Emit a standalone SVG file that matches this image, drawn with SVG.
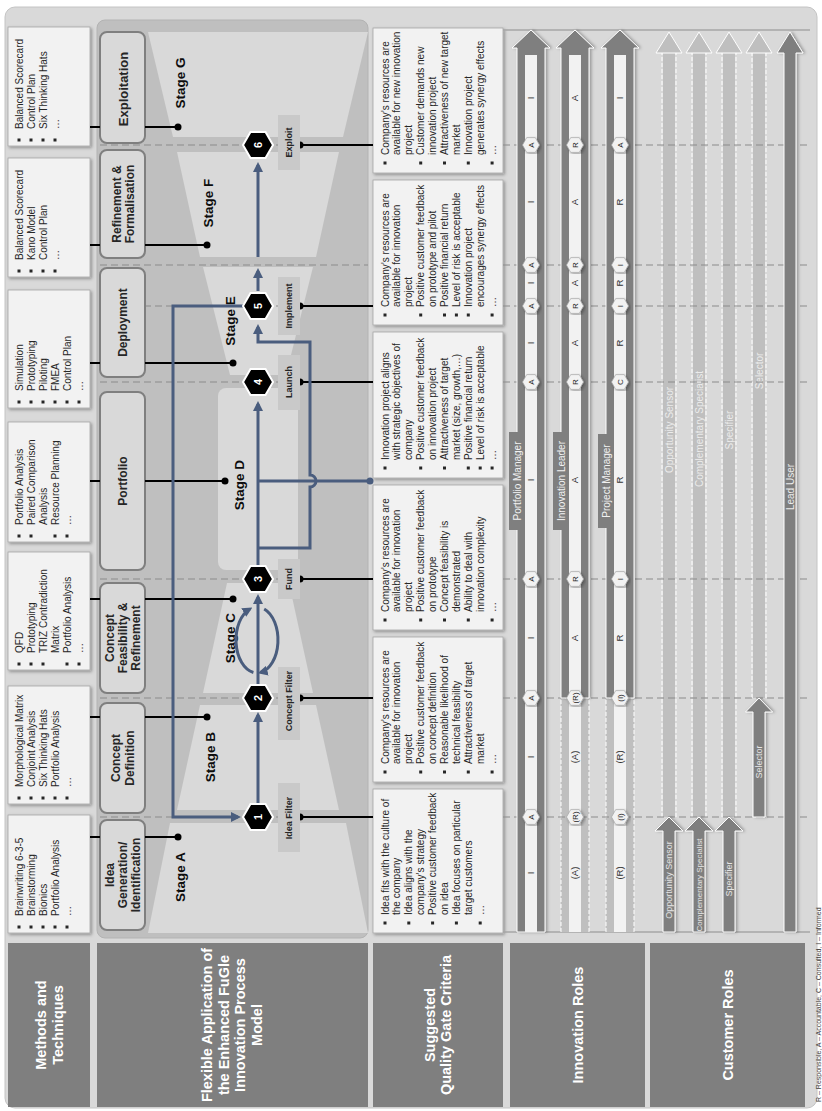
<svg xmlns="http://www.w3.org/2000/svg" width="822" height="1111" viewBox="0 0 822 1111">
<defs>
<style>
text{font-family:"Liberation Sans",Arial,Helvetica,sans-serif}
.hdr{fill:#7f7f7f}
.hdrt{font-size:14.5px;font-weight:bold;fill:#fff;text-anchor:middle}
.mbox{fill:#f2f2f2;stroke:#a6a6a6;stroke-width:0.8;filter:url(#sh)}
.li{font-size:10px;fill:#262626}
.bul{fill:#262626}
.sbox{fill:#d9d9d9;stroke:#7f7f7f;stroke-width:2}
.st{font-size:12px;font-weight:bold;fill:#262626;text-anchor:middle}
.stg{font-size:13.5px;font-weight:bold;fill:#0d0d0d;text-anchor:middle}
.fun{fill:#d9d9d9}
.gl{fill:#c9c9c9}
.glt{font-size:9px;font-weight:bold;fill:#262626;text-anchor:middle}
.gh{fill:#000;stroke:#fff;stroke-width:2}
.ght{font-size:11px;font-weight:bold;fill:#fff;text-anchor:middle}
.dash{stroke:#8c8c8c;stroke-width:1.2;stroke-dasharray:7 4;fill:none}
.blk{stroke:#000;stroke-width:2;fill:none}
.dot{fill:#000}
.blue{stroke:#4a5d7e;stroke-width:3;fill:none}
.dk{fill:#7f7f7f;stroke:#fff;stroke-width:1;filter:url(#sh2)}
.lite{fill:#bfbfbf}
.lh{fill:#bfbfbf;stroke:#fff;stroke-width:1}
.wd{stroke:#fff;stroke-width:1;stroke-dasharray:4 2;fill:none}
.strip{fill:#f2f2f2}
.rl{font-size:9.5px;fill:#333;text-anchor:middle}
.hx{fill:#f2f2f2;stroke:#a6a6a6;stroke-width:0.7;filter:url(#sh)}
.hxt{font-size:8px;fill:#262626;text-anchor:middle}
.rn{font-size:10px;fill:#f2f2f2;text-anchor:middle}
.rnl{font-size:10px;fill:#ececec;text-anchor:middle}
.rnd{font-size:9px;fill:#e6e6e6;text-anchor:middle}
</style>
<filter id="sh" x="-10%" y="-10%" width="120%" height="120%"><feDropShadow dx="-1.5" dy="1.5" stdDeviation="1.5" flood-color="#000" flood-opacity="0.35"/></filter>
<filter id="sh2" x="-5%" y="-20%" width="110%" height="140%"><feDropShadow dx="0" dy="2" stdDeviation="1.5" flood-color="#000" flood-opacity="0.3"/></filter>
<marker id="ah" viewBox="0 0 10 10" refX="7" refY="5" markerWidth="10" markerHeight="10" markerUnits="userSpaceOnUse" orient="auto"><path d="M0,0 L10,5 L0,10 z" fill="#4a5d7e"/></marker>
<polygon id="hexG" points="0,-15 13,-7.5 13,7.5 0,15 -13,7.5 -13,-7.5"/>
<polygon id="hxs" points="0,-8.5 7.4,-4.3 7.4,4.3 0,8.5 -7.4,4.3 -7.4,-4.3"/>
<clipPath id="cpd"><rect x="179" y="640" width="250" height="130"/></clipPath>
</defs>
<g transform="translate(0,1111) rotate(-90)">
<rect id="frame" x="3" y="5" width="1101" height="812" rx="10" fill="#d9d9d9" stroke="#c4c4c4"/>

<g id="hdr-methods"><rect class="hdr" x="4" y="8" width="164" height="82"/><text class="hdrt"><tspan x="86" y="46">Methods and</tspan><tspan x="86" y="63">Techniques</tspan></text></g>
<g id="hdr-flex"><rect class="hdr" x="4" y="97" width="164" height="271"/><text class="hdrt"><tspan x="86" y="212">Flexible Application of</tspan><tspan x="86" y="228.5">the Enhanced FuGle</tspan><tspan x="86" y="245">Innovation Process</tspan><tspan x="86" y="261.5">Model</tspan></text></g>
<g id="hdr-qg"><rect class="hdr" x="4" y="373" width="164" height="130"/><text class="hdrt"><tspan x="86" y="435">Suggested</tspan><tspan x="86" y="451">Quality Gate Criteria</tspan></text></g>
<g id="hdr-inno"><rect class="hdr" x="4" y="510" width="164" height="135"/><text class="hdrt" x="86" y="583">Innovation Roles</text></g>
<g id="hdr-cust"><rect class="hdr" x="4" y="650" width="164" height="155"/><text class="hdrt" x="86" y="733">Customer Roles</text></g>

<g id="process-panel">
<rect x="173" y="97" width="918" height="271" rx="8" fill="#bfbfbf" stroke="#b3b3b3"/>
<polygon class="fun" points="178,148 288,170 288,346 178,368"/>
<polygon class="fun" points="301,177 406,200 406,316 301,339"/>
<polygon class="fun" points="418,203 528,227 528,289 418,313"/>
<rect class="fun" x="541" y="218" width="182" height="80" rx="8"/>
<polygon class="fun" points="736,230 844,203 844,313 736,286"/>
<polygon class="fun" points="854,200 959,177 959,339 854,316"/>
<polygon class="fun" points="974,173 1079,148 1079,368 974,343"/>
</g>

<g id="gate-lines">
<path class="dash" d="M966 100V300M846 100V368M805 100V300M729 100V300M532 100V300M413 100V300M294 100V300"/>
</g>

<g id="stage-labels">
<text class="stg" x="1028" y="185">Stage G</text>
<text class="stg" x="908" y="213">Stage F</text>
<text class="stg" x="790" y="235">Stage E</text>
<text class="stg" x="626" y="244">Stage D</text>
<text class="stg" x="473" y="235">Stage C</text>
<text class="stg" x="354" y="215">Stage B</text>
<text class="stg" x="234" y="185">Stage A</text>
</g>

<g id="stage-idea"><rect class="sbox" x="181" y="100" width="110" height="45" rx="7"/><text class="st"><tspan x="236" y="113.7">Idea</tspan><tspan x="236" y="126.7">Generation/</tspan><tspan x="236" y="139.7">Identification</tspan></text></g>
<g id="stage-concept-definition"><rect class="sbox" x="298" y="100" width="110" height="45" rx="7"/><text class="st"><tspan x="353" y="120.2">Concept</tspan><tspan x="353" y="134.2">Definition</tspan></text></g>
<g id="stage-concept-feasibility"><rect class="sbox" x="418" y="100" width="110" height="45" rx="7"/><text class="st"><tspan x="473" y="113.7">Concept</tspan><tspan x="473" y="126.7">Feasibility &amp;</tspan><tspan x="473" y="139.7">Refinement</tspan></text></g>
<g id="stage-portfolio"><rect class="sbox" x="541" y="100" width="178" height="45" rx="7"/><text class="st" x="630" y="127">Portfolio</text></g>
<g id="stage-deployment"><rect class="sbox" x="734" y="100" width="109" height="45" rx="7"/><text class="st" x="788.5" y="127">Deployment</text></g>
<g id="stage-refinement"><rect class="sbox" x="853" y="100" width="108" height="45" rx="7"/><text class="st"><tspan x="907" y="120.7">Refinement &amp;</tspan><tspan x="907" y="134.2">Formalisation</tspan></text></g>
<g id="stage-exploitation"><rect class="sbox" x="968" y="100" width="111" height="45" rx="7"/><text class="st" x="1022" y="127.5" style="font-size:13px">Exploitation</text></g>

<g id="methods-a"><rect class="mbox" x="178" y="8" width="118" height="82"/><path class="bul" d="M182.5 17.5h3v3h-3zM182.5 29.5h3v3h-3zM182.5 41.5h3v3h-3zM182.5 53.5h3v3h-3zM182.5 65.5h3v3h-3z"/><text class="li"><tspan x="195" y="22.5">Brainwriting 6-3-5</tspan><tspan x="195" y="34.5">Brainstorming</tspan><tspan x="195" y="46.5">Bionics</tspan><tspan x="195" y="58.5">Portfolio Analysis</tspan><tspan x="195" y="70.5">…</tspan></text></g>
<g id="methods-b"><rect class="mbox" x="307" y="8" width="118" height="82"/><path class="bul" d="M311.5 17.5h3v3h-3zM311.5 29.5h3v3h-3zM311.5 41.5h3v3h-3zM311.5 53.5h3v3h-3zM311.5 65.5h3v3h-3z"/><text class="li"><tspan x="324" y="22.5">Morphological Matrix</tspan><tspan x="324" y="34.5">Conjoint Analysis</tspan><tspan x="324" y="46.5">Six Thinking Hats</tspan><tspan x="324" y="58.5">Portfolio Analysis</tspan><tspan x="324" y="70.5">…</tspan></text></g>
<g id="methods-c"><rect class="mbox" x="441" y="8" width="118" height="82"/><path class="bul" d="M445.5 17.5h3v3h-3zM445.5 29.5h3v3h-3zM445.5 41.5h3v3h-3zM445.5 65.5h3v3h-3zM445.5 77.5h3v3h-3z"/><text class="li"><tspan x="458" y="22.5">QFD</tspan><tspan x="458" y="34.5">Prototyping</tspan><tspan x="458" y="46.5">TRIZ Contradiction</tspan><tspan x="458" y="58.5">Matrix</tspan><tspan x="458" y="70.5">Portfolio Analysis</tspan><tspan x="458" y="82.5">…</tspan></text></g>
<g id="methods-d"><rect class="mbox" x="569" y="8" width="120" height="82"/><path class="bul" d="M573.5 17.5h3v3h-3zM573.5 29.5h3v3h-3zM573.5 53.5h3v3h-3zM573.5 65.5h3v3h-3z"/><text class="li"><tspan x="586" y="22.5">Portfolio Analysis</tspan><tspan x="586" y="34.5">Paired Comparison</tspan><tspan x="586" y="46.5">Analysis</tspan><tspan x="586" y="58.5">Resource Planning</tspan><tspan x="586" y="70.5">…</tspan></text></g>
<g id="methods-e"><rect class="mbox" x="703" y="8" width="118" height="82"/><path class="bul" d="M707.5 17.5h3v3h-3zM707.5 29.5h3v3h-3zM707.5 41.5h3v3h-3zM707.5 53.5h3v3h-3zM707.5 65.5h3v3h-3zM707.5 77.5h3v3h-3z"/><text class="li"><tspan x="720" y="22.5">Simulation</tspan><tspan x="720" y="34.5">Prototyping</tspan><tspan x="720" y="46.5">Piloting</tspan><tspan x="720" y="58.5">FMEA</tspan><tspan x="720" y="70.5">Control Plan</tspan><tspan x="720" y="82.5">…</tspan></text></g>
<g id="methods-f"><rect class="mbox" x="834" y="8" width="119" height="82"/><path class="bul" d="M838.5 17.5h3v3h-3zM838.5 29.5h3v3h-3zM838.5 41.5h3v3h-3zM838.5 53.5h3v3h-3z"/><text class="li"><tspan x="851" y="22.5">Balanced Scorecard</tspan><tspan x="851" y="34.5">Kano Model</tspan><tspan x="851" y="46.5">Control Plan</tspan><tspan x="851" y="58.5">…</tspan></text></g>
<g id="methods-g"><rect class="mbox" x="965" y="8" width="119" height="82"/><path class="bul" d="M969.5 17.5h3v3h-3zM969.5 29.5h3v3h-3zM969.5 41.5h3v3h-3zM969.5 53.5h3v3h-3z"/><text class="li"><tspan x="982" y="22.5">Balanced Scorecard</tspan><tspan x="982" y="34.5">Control Plan</tspan><tspan x="982" y="46.5">Six Thinking Hats</tspan><tspan x="982" y="58.5">…</tspan></text></g>

<g id="qg-6"><rect class="mbox" x="938" y="373" width="145" height="130"/><path class="bul" d="M946.5 383.5h3v3h-3zM946.5 419.2h3v3h-3zM946.5 443h3v3h-3zM946.5 466.8h3v3h-3zM946.5 490.6h3v3h-3z"/><text class="li"><tspan x="956" y="388.5">Company’s resources are</tspan><tspan x="956" y="400.4">available for new innovation</tspan><tspan x="956" y="412.3">project</tspan><tspan x="956" y="424.2">Customer demands new</tspan><tspan x="956" y="436.1">innovation project</tspan><tspan x="956" y="448">Attractiveness of new target</tspan><tspan x="956" y="459.9">market</tspan><tspan x="956" y="471.8">Innovation project</tspan><tspan x="956" y="483.7">generates synergy effects</tspan><tspan x="956" y="495.6">…</tspan></text></g>
<g id="qg-5"><rect class="mbox" x="786" y="373" width="145" height="130"/><path class="bul" d="M794.5 383.5h3v3h-3zM794.5 419.2h3v3h-3zM794.5 443h3v3h-3zM794.5 454.9h3v3h-3zM794.5 466.8h3v3h-3zM794.5 490.6h3v3h-3z"/><text class="li"><tspan x="804" y="388.5">Company’s resources are</tspan><tspan x="804" y="400.4">available for innovation</tspan><tspan x="804" y="412.3">project</tspan><tspan x="804" y="424.2">Positive customer feedback</tspan><tspan x="804" y="436.1">on prototype and pilot</tspan><tspan x="804" y="448">Positive financial return</tspan><tspan x="804" y="459.9">Level of risk is acceptable</tspan><tspan x="804" y="471.8">Innovation project</tspan><tspan x="804" y="483.7">encourages synergy effects</tspan><tspan x="804" y="495.6">…</tspan></text></g>
<g id="qg-4"><rect class="mbox" x="633" y="373" width="146" height="130"/><path class="bul" d="M641.5 383.5h3v3h-3zM641.5 419.2h3v3h-3zM641.5 443h3v3h-3zM641.5 466.8h3v3h-3zM641.5 478.7h3v3h-3zM641.5 490.6h3v3h-3z"/><text class="li"><tspan x="651" y="388.5">Innovation project aligns</tspan><tspan x="651" y="400.4">with strategic objectives of</tspan><tspan x="651" y="412.3">company</tspan><tspan x="651" y="424.2">Positive customer feedback</tspan><tspan x="651" y="436.1">on innovation project</tspan><tspan x="651" y="448">Attractiveness of target</tspan><tspan x="651" y="459.9">market (size, growth,…)</tspan><tspan x="651" y="471.8">Positive financial return</tspan><tspan x="651" y="483.7">Level of risk is acceptable</tspan><tspan x="651" y="495.6">…</tspan></text></g>
<g id="qg-3"><rect class="mbox" x="481" y="373" width="145" height="130"/><path class="bul" d="M489.5 383.5h3v3h-3zM489.5 419.2h3v3h-3zM489.5 443h3v3h-3zM489.5 466.8h3v3h-3zM489.5 490.6h3v3h-3z"/><text class="li"><tspan x="499" y="388.5">Company’s resources are</tspan><tspan x="499" y="400.4">available for innovation</tspan><tspan x="499" y="412.3">project</tspan><tspan x="499" y="424.2">Positive customer feedback</tspan><tspan x="499" y="436.1">on prototype</tspan><tspan x="499" y="448">Concept feasibility is</tspan><tspan x="499" y="459.9">demonstrated</tspan><tspan x="499" y="471.8">Ability to deal with</tspan><tspan x="499" y="483.7">innovation complexity</tspan><tspan x="499" y="495.6">…</tspan></text></g>
<g id="qg-2"><rect class="mbox" x="329" y="373" width="145" height="130"/><path class="bul" d="M337.5 383.5h3v3h-3zM337.5 419.2h3v3h-3zM337.5 443h3v3h-3zM337.5 466.8h3v3h-3zM337.5 490.6h3v3h-3z"/><text class="li"><tspan x="347" y="388.5">Company’s resources are</tspan><tspan x="347" y="400.4">available for innovation</tspan><tspan x="347" y="412.3">project</tspan><tspan x="347" y="424.2">Positive customer feedback</tspan><tspan x="347" y="436.1">on concept definition</tspan><tspan x="347" y="448">Reasonable likelihood of</tspan><tspan x="347" y="459.9">technical feasibility</tspan><tspan x="347" y="471.8">Attractiveness of target</tspan><tspan x="347" y="483.7">market</tspan><tspan x="347" y="495.6">…</tspan></text></g>
<g id="qg-1"><rect class="mbox" x="178" y="373" width="144" height="130"/><path class="bul" d="M186.5 383.5h3v3h-3zM186.5 407.3h3v3h-3zM186.5 431.1h3v3h-3zM186.5 454.9h3v3h-3zM186.5 478.7h3v3h-3z"/><text class="li"><tspan x="196" y="388.5">Idea fits with the culture of</tspan><tspan x="196" y="400.4">the company</tspan><tspan x="196" y="412.3">Idea aligns with the</tspan><tspan x="196" y="424.2">company’s strategy</tspan><tspan x="196" y="436.1">Positive customer feedback</tspan><tspan x="196" y="448">on idea</tspan><tspan x="196" y="459.9">Idea focuses on particular</tspan><tspan x="196" y="471.8">target customers</tspan><tspan x="196" y="483.7">…</tspan></text></g>

<g id="connectors">
<path class="blk" d="M274 90V100M274 145V178M394 90V100M394 145V207M512 90V100M512 145V233M630 90V100M630 145V225M748 90V100M748 145V233M866 90V100M866 145V207M984 90V100M984 145V178"/>
<g class="dot"><circle cx="274" cy="178" r="3.5"/><circle cx="394" cy="207" r="3.5"/><circle cx="512" cy="233" r="3.5"/><circle cx="630" cy="225" r="3.5"/><circle cx="748" cy="233" r="3.5"/><circle cx="866" cy="207" r="3.5"/><circle cx="984" cy="178" r="3.5"/></g>
<path class="blk" d="M966 300V373M805 300V373M729 300V373M532 300V373M413 300V373M294 300V373"/>
<g class="dot"><circle cx="966" cy="300" r="3.5"/><circle cx="805" cy="300" r="3.5"/><circle cx="729" cy="300" r="3.5"/><circle cx="532" cy="300" r="3.5"/><circle cx="413" cy="300" r="3.5"/><circle cx="294" cy="300" r="3.5"/></g>
<path class="blue" marker-end="url(#ah)" d="M308 258H396"/>
<path class="blue" marker-end="url(#ah)" d="M427 258H514"/>
<path class="blue" marker-end="url(#ah)" d="M438.5 253.4A33 21 0 0 1 502 249.8"/>
<path class="blue" marker-end="url(#ah)" d="M502 264.2A33 21 0 0 1 438.5 260.6"/>
<path class="blue" marker-end="url(#ah)" d="M546 258H707"/>
<path class="blue" marker-end="url(#ah)" d="M563 258V310H624A6 6 0 0 0 636 310H769V258H784"/>
<path class="blue" d="M630 258V370"/>
<circle cx="630" cy="370" r="3.5" fill="#4a5d7e"/>
<path class="blue" marker-end="url(#ah)" d="M805 243V173H294V238"/>
<path class="blue" marker-end="url(#ah)" d="M820 258H840"/>
<path class="blue" marker-end="url(#ah)" d="M854 258H946"/>
</g>

<g id="gate-6"><rect class="gl" x="941" y="278" width="55" height="22"/><text class="glt" x="968.5" y="292.2">Exploit</text><use href="#hexG" class="gh" x="966" y="258"/><text class="ght" x="966" y="262">6</text></g>
<g id="gate-5"><rect class="gl" x="776" y="278" width="58" height="22"/><text class="glt" x="805" y="292.2">Implement</text><use href="#hexG" class="gh" x="805" y="258"/><text class="ght" x="805" y="262">5</text></g>
<g id="gate-4"><rect class="gl" x="701" y="278" width="55" height="22"/><text class="glt" x="729" y="292.2">Launch</text><use href="#hexG" class="gh" x="729" y="258"/><text class="ght" x="729" y="262">4</text></g>
<g id="gate-3"><rect class="gl" x="512" y="278" width="40" height="22"/><text class="glt" x="532" y="292.2">Fund</text><use href="#hexG" class="gh" x="532" y="258"/><text class="ght" x="532" y="262">3</text></g>
<g id="gate-2"><rect class="gl" x="371" y="278" width="73" height="22"/><text class="glt" x="410" y="292.2">Concept Filter</text><use href="#hexG" class="gh" x="413" y="258"/><text class="ght" x="413" y="262">2</text></g>
<g id="gate-1"><rect class="gl" x="259" y="278" width="69" height="22"/><text class="glt" x="293" y="292.2">Idea Filter</text><use href="#hexG" class="gh" x="294" y="258"/><text class="ght" x="294" y="262">1</text></g>

<g id="roles-frame"><path d="M1081 503V810M179 503V810" stroke="#a6a6a6" stroke-width="1.5"/></g>

<g id="roles-optional">
<rect class="lite" x="179" y="561" width="234" height="28"/><path class="wd" d="M179 561H413M179 589H413"/>
<rect class="lite" x="179" y="606" width="234" height="28"/><path class="wd" d="M179 606H413M179 634H413"/>
<rect class="lite" x="294" y="663" width="764" height="12"/><path class="wd" d="M294 662H1058M294 676H1058"/><polygon class="lh" points="1058,656 1079,669 1058,682"/>
<rect class="lite" x="294" y="693" width="764" height="12"/><path class="wd" d="M294 692H1058M294 706H1058"/><polygon class="lh" points="1058,686 1079,699 1058,712"/>
<rect class="lite" x="294" y="723" width="764" height="12"/><path class="wd" d="M294 722H1058M294 736H1058"/><polygon class="lh" points="1058,716 1079,729 1058,742"/>
<rect class="lite" x="413" y="753" width="645" height="12"/><path class="wd" d="M413 752H1058M413 766H1058"/><polygon class="lh" points="1058,746 1079,759 1058,772"/>
<text class="rnl" x="681" y="672.5">Opportunity Sensor</text>
<text class="rnl" x="682" y="702.5">Complementary Specialist</text>
<text class="rnl" x="681" y="732.5">Specifier</text>
<text class="rnl" x="740" y="762.5">Selector</text>
</g>

<g id="gate-lines-roles"><path class="dash" d="M966 503V810M846 503V810M805 503V810M729 503V810M532 503V810M413 503V810M294 503V810"/></g>

<g id="role-portfolio-manager">
<polygon class="dk" points="179,517 1063,517 1063,512 1081,531 1063,550 1063,545 179,545"/>
<rect x="581" y="509" width="98" height="16" fill="#7f7f7f"/>
<rect class="strip" x="179" y="525" width="877" height="12"/>
<text class="rn" x="630" y="520.5">Portfolio Manager</text>
</g>
<g id="role-innovation-leader">
<polygon class="dk" points="413,561 1063,561 1063,556 1081,575 1063,594 1063,589 413,589"/>
<rect x="581" y="553" width="98" height="16" fill="#7f7f7f"/>
<rect class="strip" x="179" y="569" width="877" height="12"/>
<text class="rn" x="630" y="564.5">Innovation Leader</text>
</g>
<g id="role-project-manager">
<polygon class="dk" points="413,606 1063,606 1063,601 1081,620 1063,639 1063,634 413,634"/>
<rect x="583" y="598" width="94" height="16" fill="#7f7f7f"/>
<rect class="strip" x="179" y="614" width="877" height="12"/>
<text class="rn" x="630" y="609.5">Project Manager</text>
</g>

<g id="raci-letters">
<text class="rl"><tspan x="1013" y="534.3">I</tspan><tspan x="909" y="534.3">I</tspan><tspan x="828" y="534.3">I</tspan><tspan x="768" y="534.3">I</tspan><tspan x="631" y="534.3">I</tspan><tspan x="473" y="534.3">I</tspan><tspan x="354" y="534.3">I</tspan><tspan x="238" y="534.3">I</tspan></text>
<text class="rl"><tspan x="1013" y="578.3">A</tspan><tspan x="909" y="578.3">A</tspan><tspan x="828" y="578.3">A</tspan><tspan x="768" y="578.3">A</tspan><tspan x="631" y="578.3">A</tspan><tspan x="473" y="578.3">A</tspan><tspan x="354" y="578.3">(A)</tspan><tspan x="238" y="578.3">(A)</tspan></text>
<text class="rl"><tspan x="1013" y="623.3">I</tspan><tspan x="909" y="623.3">R</tspan><tspan x="828" y="623.3">R</tspan><tspan x="768" y="623.3">R</tspan><tspan x="631" y="623.3">R</tspan><tspan x="473" y="623.3">R</tspan><tspan x="354" y="623.3">(R)</tspan><tspan x="238" y="623.3">(R)</tspan></text>
</g>

<g id="raci-hexagons">
<use href="#hxs" class="hx" x="966" y="531"/><use href="#hxs" class="hx" x="846" y="531"/><use href="#hxs" class="hx" x="805" y="531"/><use href="#hxs" class="hx" x="729" y="531"/><use href="#hxs" class="hx" x="532" y="531"/><use href="#hxs" class="hx" x="413" y="531"/><use href="#hxs" class="hx" x="294" y="531"/>
<use href="#hxs" class="hx" x="966" y="575"/><use href="#hxs" class="hx" x="846" y="575"/><use href="#hxs" class="hx" x="805" y="575"/><use href="#hxs" class="hx" x="729" y="575"/><use href="#hxs" class="hx" x="532" y="575"/><use href="#hxs" class="hx" x="413" y="575"/><use href="#hxs" class="hx" x="294" y="575"/>
<use href="#hxs" class="hx" x="966" y="620"/><use href="#hxs" class="hx" x="846" y="620"/><use href="#hxs" class="hx" x="805" y="620"/><use href="#hxs" class="hx" x="729" y="620"/><use href="#hxs" class="hx" x="532" y="620"/><use href="#hxs" class="hx" x="413" y="620"/><use href="#hxs" class="hx" x="294" y="620"/>
<text class="hxt"><tspan x="966" y="533.8">A</tspan><tspan x="846" y="533.8">A</tspan><tspan x="805" y="533.8">A</tspan><tspan x="729" y="533.8">A</tspan><tspan x="532" y="533.8">A</tspan><tspan x="413" y="533.8">A</tspan><tspan x="294" y="533.8">A</tspan></text>
<text class="hxt"><tspan x="966" y="577.8">R</tspan><tspan x="846" y="577.8">R</tspan><tspan x="805" y="577.8">R</tspan><tspan x="729" y="577.8">R</tspan><tspan x="532" y="577.8">R</tspan><tspan x="413" y="577.8">(R)</tspan><tspan x="294" y="577.8">(R)</tspan></text>
<text class="hxt"><tspan x="966" y="622.8">A</tspan><tspan x="846" y="622.8">I</tspan><tspan x="805" y="622.8">I</tspan><tspan x="729" y="622.8">C</tspan><tspan x="532" y="622.8">I</tspan><tspan x="413" y="622.8">(I)</tspan><tspan x="294" y="622.8">(I)</tspan></text>
</g>

<g id="role-opportunity-sensor"><polygon class="dk" points="179,663 280,663 280,655 294,669 280,683 280,675 179,675"/><text class="rnd" x="231" y="672.2" clip-path="url(#cpd)">Opportunity Sensor</text></g>
<g id="role-complementary-specialist"><polygon class="dk" points="179,693 280,693 280,685 294,699 280,713 280,705 179,705"/><text class="rnd" x="226" y="701.8" clip-path="url(#cpd)" style="font-size:8px">Complementary Specialist</text></g>
<g id="role-specifier"><polygon class="dk" points="179,723 280,723 280,715 294,729 280,743 280,735 179,735"/><text class="rnd" x="232" y="732.2" clip-path="url(#cpd)">Specifier</text></g>
<g id="role-selector"><polygon class="dk" points="294,753 399,753 399,745.5 413,759 399,772.5 399,765 294,765"/><text class="rnd" x="349" y="762.2">Selector</text></g>
<g id="role-lead-user"><polygon class="dk" points="179,784 1058,784 1058,777 1079,790 1058,803 1058,796 179,796"/><text class="rnl" x="624" y="793.5">Lead User</text></g>

<text id="legend" x="9" y="820.5" font-size="7" fill="#404040">R – Responsible, A – Accountable, C – Consulted, I – Informed</text>
</g>
</svg>
